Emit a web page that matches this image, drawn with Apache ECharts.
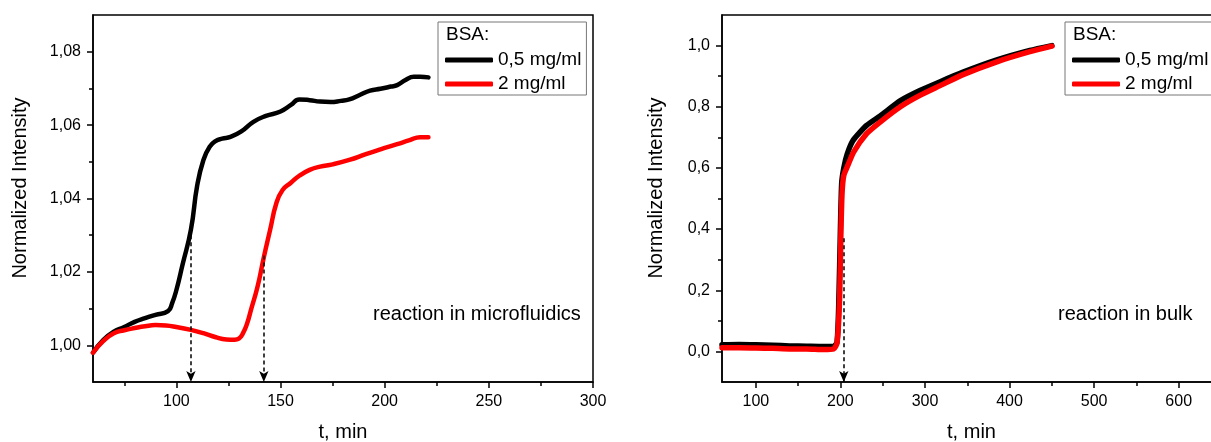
<!DOCTYPE html>
<html>
<head>
<meta charset="utf-8">
<script src="https://cdn.jsdelivr.net/npm/echarts@6/dist/echarts.min.js"></script>
<style>
html,body{margin:0;padding:0;background:#fff;}
#chart{width:1211px;height:442px;}
</style>
</head>
<body>
<div id="chart"></div>
<script>
// ---- Data (left: reaction in microfluidics) ----
const seriesNames = ['0,5 mg/ml', '2 mg/ml'];
const legendTitle = 'BSA:';
const microBlackT = [60, 65, 70, 75, 80, 85, 90, 96, 98, 100, 103, 107, 110, 113, 116, 119, 122, 126, 131, 137, 143, 150, 155, 159, 164, 169, 174, 179, 183, 188, 193, 198, 203, 206, 210, 214, 217, 221];
const microBlackV = [0.998, 1.0015, 1.0037, 1.0050, 1.0064, 1.0074, 1.0083, 1.0093, 1.0115, 1.0150, 1.0220, 1.0315, 1.0435, 1.0505, 1.0541, 1.0557, 1.0563, 1.0568, 1.0582, 1.0609, 1.0625, 1.0637, 1.0655, 1.0670, 1.0668, 1.0664, 1.0663, 1.0666, 1.0670, 1.0682, 1.0694, 1.0699, 1.0705, 1.0709, 1.0723, 1.0732, 1.0732, 1.0730];
const microRedT = [60, 65, 70, 75, 80, 85, 90, 95, 100, 107, 113, 119, 124, 128, 130, 132, 134, 136, 139, 142, 145, 148, 151, 155, 159, 164, 169, 175, 183, 191, 198, 206, 212, 217, 221];
const microRedV = [0.998, 1.0012, 1.0033, 1.0041, 1.0047, 1.0052, 1.0055, 1.0054, 1.0050, 1.0042, 1.0033, 1.0022, 1.0016, 1.0015, 1.0018, 1.0033, 1.0060, 1.0100, 1.0160, 1.0240, 1.0314, 1.0387, 1.0423, 1.0443, 1.0462, 1.0478, 1.0487, 1.0493, 1.0505, 1.0521, 1.0534, 1.0548, 1.0559, 1.0567, 1.0567];
const microArrows = [[107, 1.030], [142, 1.0245]];
const microXTicks = [100, 150, 200, 250, 300];
const microXMinor = [75, 125, 175, 225, 275];
const microYTicks = [1.00, 1.02, 1.04, 1.06, 1.08];
const microYMinor = [1.01, 1.03, 1.05, 1.07];

// ---- Data (right: reaction in bulk) ----
const bulkBlackT = [60, 80, 100, 120, 140, 160, 180, 192, 196, 198, 200, 201.5, 204, 208, 215, 231, 247, 271, 294, 318, 345, 385, 424, 450];
const bulkBlackV = [0.022, 0.023, 0.022, 0.020, 0.018, 0.017, 0.016, 0.016, 0.030, 0.150, 0.400, 0.550, 0.600, 0.645, 0.690, 0.739, 0.770, 0.820, 0.853, 0.882, 0.913, 0.953, 0.984, 1.000];
const bulkRedT = [60, 80, 100, 120, 140, 160, 180, 192, 196, 199, 200.6, 202, 204, 208, 215.6, 231, 247, 271, 294, 318, 345, 385, 424, 450];
const bulkRedV = [0.012, 0.012, 0.011, 0.010, 0.008, 0.008, 0.006, 0.008, 0.027, 0.170, 0.390, 0.520, 0.575, 0.603, 0.652, 0.712, 0.750, 0.800, 0.837, 0.869, 0.905, 0.947, 0.980, 0.998];
const bulkArrows = [[204, 0.37]];
const bulkXTicks = [100, 200, 300, 400, 500, 600];
const bulkXMinor = [150, 250, 350, 450, 550];
const bulkYTicks = [0.0, 0.2, 0.4, 0.6, 0.8, 1.0];
const bulkYMinor = [0.1, 0.3, 0.5, 0.7, 0.9];

const FONT = 'Arial, "Liberation Sans", sans-serif';
const zip = (a, b) => a.map((x, i) => [x, b[i]]);
const comma = d => v => v.toFixed(d).replace('.', ',');

function xAxes(grid, min, max, major, minor, name) {
  return [
    { type: 'value', gridIndex: grid, min, max, position: 'bottom',
      name, nameLocation: 'middle', nameGap: 40,
      nameTextStyle: { fontFamily: FONT, fontSize: 20, color: '#000' },
      axisLine: { show: true, onZero: false, lineStyle: { color: '#000', width: 1.5 } },
      axisTick: { show: true, length: 6, customValues: major, lineStyle: { color: '#000', width: 1.5 } },
      axisLabel: { show: true, customValues: major, margin: 12, fontFamily: FONT, fontSize: 16, color: '#000' },
      splitLine: { show: false } },
    { type: 'value', gridIndex: grid, min, max, position: 'bottom',
      axisLine: { show: false, onZero: false },
      axisTick: { show: true, length: 4, customValues: minor, lineStyle: { color: '#000', width: 1.5 } },
      axisLabel: { show: false }, splitLine: { show: false } }
  ];
}
function yAxes(grid, min, max, major, minor, dec) {
  return [
    { type: 'value', gridIndex: grid, min, max, position: 'left',
      axisLine: { show: true, onZero: false, lineStyle: { color: '#000', width: 1.5 } },
      axisTick: { show: true, length: 6, customValues: major, lineStyle: { color: '#000', width: 1.5 } },
      axisLabel: { show: true, customValues: major, margin: 12, fontFamily: FONT, fontSize: 16, color: '#000', formatter: comma(dec) },
      splitLine: { show: false } },
    { type: 'value', gridIndex: grid, min, max, position: 'left',
      axisLine: { show: false, onZero: false },
      axisTick: { show: true, length: 4, customValues: minor, lineStyle: { color: '#000', width: 1.5 } },
      axisLabel: { show: false }, splitLine: { show: false } }
  ];
}
function arrowLine(arrows, yMin) {
  return {
    silent: true, symbol: ['none', 'arrow'], symbolSize: 10,
    label: { show: false },
    emphasis: { disabled: true },
    lineStyle: { color: '#000', type: [4, 3], width: 1.5, opacity: 1 },
    itemStyle: { color: '#000' },
    data: arrows.map(a => [
      { coord: [a[0], a[1]], symbol: 'none' },
      { coord: [a[0], yMin], symbol: 'arrow', symbolSize: [7, 11] }
    ])
  };
}
function legendAt(left, padRight) {
  return {
    data: seriesNames, orient: 'vertical', left, top: 22,
    padding: [28, padRight, 1, 7], itemGap: 4, itemWidth: 48, itemHeight: 5,
    icon: 'roundRect', borderColor: '#777', borderWidth: 1,
    textStyle: { fontFamily: FONT, fontSize: 19, color: '#000', lineHeight: 20 }
  };
}

const chart = echarts.init(document.getElementById('chart'), null, { renderer: 'canvas' });
chart.setOption({
  animation: false,
  backgroundColor: '#fff',
  grid: [
    { left: 93, top: 15, width: 500, height: 367, outerBoundsMode: 'none', containLabel: false,
      show: true, borderColor: '#000', borderWidth: 1.5 },
    { left: 722, top: 15, width: 499, height: 367, outerBoundsMode: 'none', containLabel: false,
      show: true, borderColor: '#000', borderWidth: 1.5 }
  ],
  xAxis: [].concat(
    xAxes(0, 60, 300, microXTicks, microXMinor, 't, min'),
    xAxes(1, 60, 650, bulkXTicks, bulkXMinor, 't, min')
  ),
  yAxis: [].concat(
    yAxes(0, 0.99, 1.09, microYTicks, microYMinor, 2),
    yAxes(1, -0.1, 1.1, bulkYTicks, bulkYMinor, 1)
  ),
  legend: [legendAt(438, 5), legendAt(1065, 14)],
  series: [
    { name: seriesNames[0], type: 'line', xAxisIndex: 0, yAxisIndex: 0, data: zip(microBlackT, microBlackV),
      showSymbol: false, smooth: true, color: '#000', lineStyle: { width: 4.5, color: '#000', cap: 'round', join: 'round' },
      markLine: arrowLine(microArrows, 0.99) },
    { name: seriesNames[1], type: 'line', xAxisIndex: 0, yAxisIndex: 0, data: zip(microRedT, microRedV),
      showSymbol: false, smooth: true, color: '#ff0000', lineStyle: { width: 4.5, color: '#ff0000', cap: 'round', join: 'round' } },
    { name: seriesNames[0], type: 'line', xAxisIndex: 2, yAxisIndex: 2, data: zip(bulkBlackT, bulkBlackV),
      showSymbol: false, smooth: 0.2, color: '#000', lineStyle: { width: 5.5, color: '#000', cap: 'round', join: 'round' } },
    { name: seriesNames[1], type: 'line', xAxisIndex: 2, yAxisIndex: 2, data: zip(bulkRedT, bulkRedV),
      showSymbol: false, smooth: 0.2, color: '#ff0000', lineStyle: { width: 5.5, color: '#ff0000', cap: 'round', join: 'round' },
      markLine: arrowLine(bulkArrows, -0.1) }
  ],
  graphic: [
    { type: 'text', x: 20, y: 188, rotation: Math.PI / 2,
      style: { text: 'Normalized Intensity', fontFamily: FONT, fontSize: 20, fill: '#000', align: 'center', verticalAlign: 'middle' } },
    { type: 'text', x: 656, y: 188, rotation: Math.PI / 2,
      style: { text: 'Normalized Intensity', fontFamily: FONT, fontSize: 20, fill: '#000', align: 'center', verticalAlign: 'middle' } },
    { type: 'text', x: 446, y: 25,
      style: { text: legendTitle, fontFamily: FONT, fontSize: 19, fill: '#000', align: 'left', verticalAlign: 'top' } },
    { type: 'text', x: 1073, y: 25,
      style: { text: legendTitle, fontFamily: FONT, fontSize: 19, fill: '#000', align: 'left', verticalAlign: 'top' } },
    { type: 'text', x: 373, y: 314,
      style: { text: 'reaction in microfluidics', fontFamily: FONT, fontSize: 20, fill: '#000', align: 'left', verticalAlign: 'middle' } },
    { type: 'text', x: 1058, y: 314,
      style: { text: 'reaction in bulk', fontFamily: FONT, fontSize: 20, fill: '#000', align: 'left', verticalAlign: 'middle' } }
  ]
});
</script>
</body>
</html>
